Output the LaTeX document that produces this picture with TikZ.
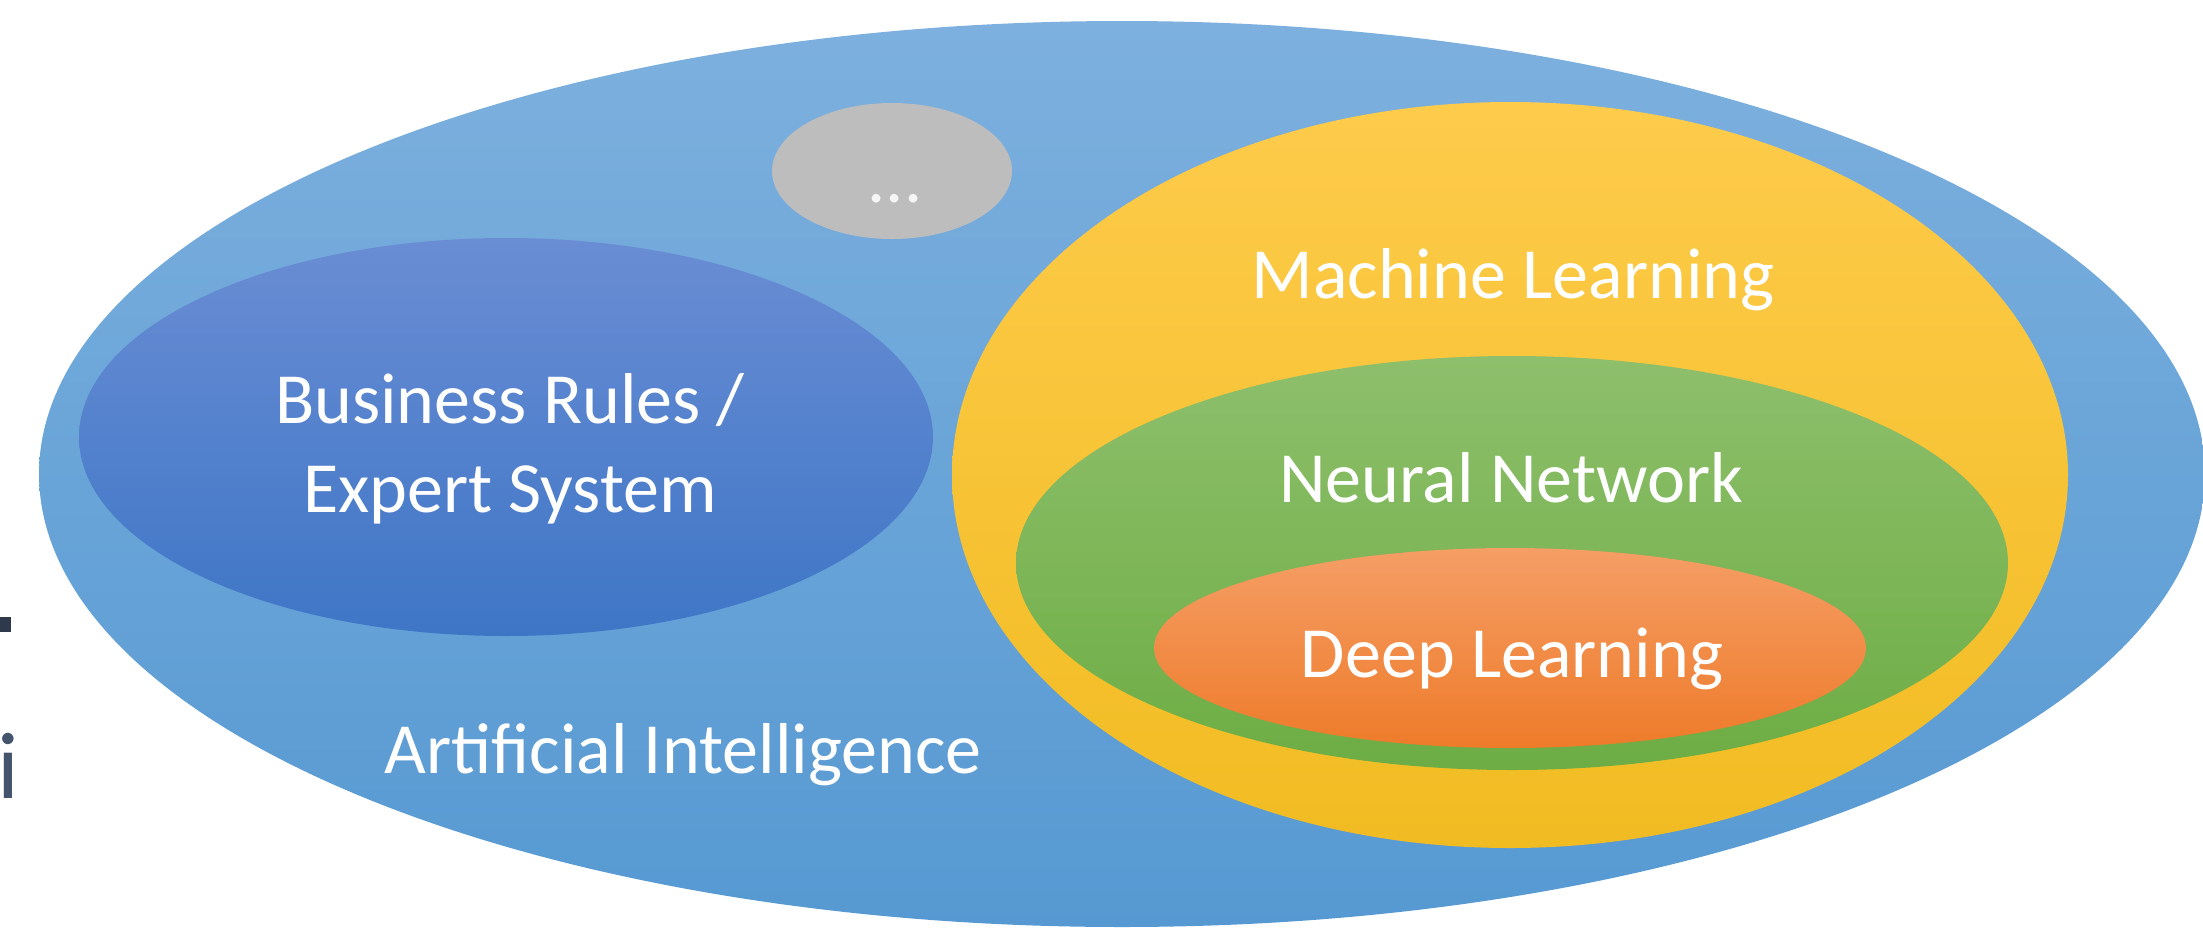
\documentclass[tikz,border=0pt]{standalone}
\usepackage{fontspec}
\newfontfamily\labelfont{Carlito}
\usetikzlibrary{shapes.geometric}
\definecolor{aitop}{HTML}{7DB0DE}
\definecolor{aibot}{HTML}{5699D2}
\definecolor{brtop}{HTML}{6A8DD4}
\definecolor{brbot}{HTML}{3E76C6}
\definecolor{mltop}{HTML}{FECB4B}
\definecolor{mlbot}{HTML}{F1BC22}
\definecolor{nntop}{HTML}{8EBF6C}
\definecolor{nnbot}{HTML}{6DAD44}
\definecolor{dltop}{HTML}{F59E66}
\definecolor{dlbot}{HTML}{EE7B2A}
\definecolor{etc}{HTML}{BDBDBD}
\definecolor{slate}{HTML}{2E3A4C}
\definecolor{slate2}{HTML}{44546C}
\tikzset{
  blob/.style={ellipse,inner sep=0pt,outer sep=0pt},
  lbl/.style={font=\labelfont\fontsize{20.5}{25.3}\selectfont,text=white,anchor=base,align=center,inner sep=0pt},
}

\begin{document}
\begin{tikzpicture}[x=0.1mm,y=-0.1mm]
\useasboundingbox (0,0) rectangle (2203,931);
\clip (0,0) rectangle (2203,931);
% the nested fields
\node[blob,minimum width=216.6mm,minimum height=90.6mm,top color=aitop,bottom color=aibot] (ai) at (1122,474) {};
\node[blob,minimum width=85.4mm,minimum height=39.8mm,top color=brtop,bottom color=brbot] (rules) at (506,437) {};
\node[blob,minimum width=24mm,minimum height=13.6mm,fill=etc] (more) at (892,171) {};
\node[blob,minimum width=111.6mm,minimum height=74.6mm,top color=mltop,bottom color=mlbot] (ml) at (1510,475) {};
\node[blob,minimum width=99.2mm,minimum height=41.4mm,top color=nntop,bottom color=nnbot] (nn) at (1512,563) {};
\node[blob,minimum width=71.2mm,minimum height=20mm,top color=dltop,bottom color=dlbot] (dl) at (1510,648) {};
% labels (base = baseline of the last line)
\node[lbl] (mltxt) at (1513,298) {Machine Learning};
\node[lbl] (nntxt) at (1511,502) {Neural Network};
\node[lbl] (dltxt) at (1512,677) {Deep Learning};
\node[lbl] (rulestxt) at (510,512) {Business Rules /\\Expert System};
\node[lbl] (aitxt) at (683,773) {Artificial Intelligence};
\node[lbl,text=white!92!gray] (moretxt) at (895,202) {...};
% bits of the next slide at the left edge
\fill[slate] (0,617) rectangle (11,632);
\node[font=\labelfont\fontsize{27}{30}\selectfont,text=slate2,anchor=base west,inner sep=0pt] (edgei) at (-3,798) {i};
\end{tikzpicture}
\end{document}
